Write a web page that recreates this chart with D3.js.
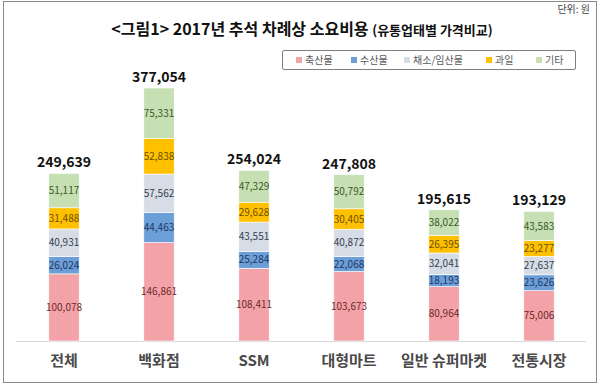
<!DOCTYPE html>
<html>
<head>
<meta charset="utf-8">
<script src="https://cdn.jsdelivr.net/npm/d3@7.9.0/dist/d3.min.js"></script>
<style>
  body { margin: 0; background: #fff; }
  svg { display: block; font-family: "Noto Sans CJK KR", "Noto Sans", sans-serif; }
</style>
</head>
<body>
<div id="chart"></div>
<script>
// data
const categories = ["전체", "백화점", "SSM", "대형마트", "일반 슈퍼마켓", "전통시장"];
const seriesNames = ["축산물", "수산물", "채소/임산물", "과일", "기타"];
const livestock = [100078, 146861, 108411, 103673, 80964, 75006];
const seafood = [26024, 44463, 25284, 22068, 18193, 23626];
const vegetables = [40931, 57562, 43551, 40872, 32041, 27637];
const fruit = [31488, 52838, 29628, 30405, 26395, 23277];
const other = [51117, 75331, 47329, 50792, 38022, 43583];
const totals = [249639, 377054, 254024, 247808, 195615, 193129];

const fills = ["#F3A3A8", "#6C9FD8", "#D7DDE6", "#FFC000", "#C6E0B4"];
const labelColors = ["#6b2a2a", "#1f3864", "#333f50", "#6b5000", "#3b5a25"];

const width = 600, height = 385;
const baseY = 341, topY = 88;

const svg = d3.select("#chart").append("svg")
  .attr("width", width)
  .attr("height", height);

// outer frame
svg.append("rect")
  .attr("x", 3.5).attr("y", 1.5)
  .attr("width", 593).attr("height", 381)
  .attr("fill", "none")
  .attr("stroke", "#8a8a8a")
  .attr("stroke-width", 1);

// title
const title = svg.append("text")
  .attr("x", 302).attr("y", 35)
  .attr("text-anchor", "middle")
  .attr("fill", "#111");
title.append("tspan")
  .attr("font-size", 16).attr("font-weight", "bold")
  .text("<그림1> 2017년 추석 차례상 소요비용 ");
title.append("tspan")
  .attr("font-size", 13).attr("font-weight", "bold")
  .text("(유통업태별 가격비교)");

svg.append("text")
  .attr("x", 590).attr("y", 13)
  .attr("text-anchor", "end")
  .attr("font-size", 10)
  .attr("fill", "#444")
  .text("단위: 원");

// stack the data
const rows = categories.map((c, i) => ({
  cat: c,
  "축산물": livestock[i],
  "수산물": seafood[i],
  "채소/임산물": vegetables[i],
  "과일": fruit[i],
  "기타": other[i],
  total: totals[i]
}));
const stacked = d3.stack().keys(seriesNames)(rows);

const x = d3.scaleBand()
  .domain(categories)
  .range([16.5, 586.5])
  .paddingInner(0.68)
  .paddingOuter(0.34);

const y = d3.scaleLinear()
  .domain([0, d3.max(rows, d => d3.sum(seriesNames, k => d[k]))])
  .range([baseY, topY]);

const color = d3.scaleOrdinal().domain(seriesNames).range(fills);
const textColor = d3.scaleOrdinal().domain(seriesNames).range(labelColors);

// baseline
svg.append("line")
  .attr("x1", 16).attr("x2", 586)
  .attr("y1", baseY + 0.5).attr("y2", baseY + 0.5)
  .attr("stroke", "#d9d9d9");

const layers = svg.append("g")
  .selectAll("g")
  .data(stacked)
  .join("g")
  .attr("fill", d => color(d.key));

layers.selectAll("rect")
  .data(d => d)
  .join("rect")
  .attr("x", d => x(d.data.cat))
  .attr("y", d => y(d[1]))
  .attr("width", x.bandwidth())
  .attr("height", d => y(d[0]) - y(d[1]))
  .attr("stroke", "#fff")
  .attr("stroke-width", 0.6);

// segment value labels
svg.append("g")
  .selectAll("g")
  .data(stacked)
  .join("g")
  .attr("fill", d => textColor(d.key))
  .selectAll("text")
  .data(d => d.map(v => ({ v, key: d.key })))
  .join("text")
  .attr("x", d => x(d.v.data.cat) + x.bandwidth() / 2)
  .attr("y", d => (y(d.v[0]) + y(d.v[1])) / 2)
  .attr("dy", "0.35em")
  .attr("text-anchor", "middle")
  .attr("font-size", 10)
  .text(d => d3.format(",")(d.v.data[d.key]));

// totals above the bars
svg.append("g")
  .selectAll("text")
  .data(rows)
  .join("text")
  .attr("x", d => x(d.cat) + x.bandwidth() / 2)
  .attr("y", d => y(d3.sum(seriesNames, k => d[k])) - 6)
  .attr("text-anchor", "middle")
  .attr("font-size", 14)
  .attr("font-weight", "bold")
  .attr("fill", "#111")
  .text(d => d3.format(",")(d.total));

// category axis
const xAxis = svg.append("g")
  .attr("transform", `translate(0,${baseY})`)
  .call(d3.axisBottom(x).tickSize(0).tickPadding(14));
xAxis.select(".domain").remove();
xAxis.selectAll("text")
  .attr("font-size", 15)
  .attr("font-weight", "bold")
  .attr("fill", "#4a4a4a")
  .attr("font-family", "'Noto Sans CJK KR', sans-serif");

// legend
svg.append("rect")
  .attr("x", 282.5).attr("y", 50.5)
  .attr("width", 293).attr("height", 19)
  .attr("rx", 1.5)
  .attr("fill", "#fff")
  .attr("stroke", "#7f7f7f");

const legendX = [299, 354, 407, 489, 539];
const legend = svg.append("g")
  .selectAll("g")
  .data(seriesNames)
  .join("g")
  .attr("transform", (d, i) => `translate(${legendX[i]},60)`);
legend.append("rect")
  .attr("x", -3).attr("y", -3)
  .attr("width", 6).attr("height", 6)
  .attr("fill", d => color(d));
legend.append("text")
  .attr("x", 6)
  .attr("dy", "0.35em")
  .attr("font-size", 10)
  .attr("fill", "#595959")
  .text(d => d);
</script>
</body>
</html>
